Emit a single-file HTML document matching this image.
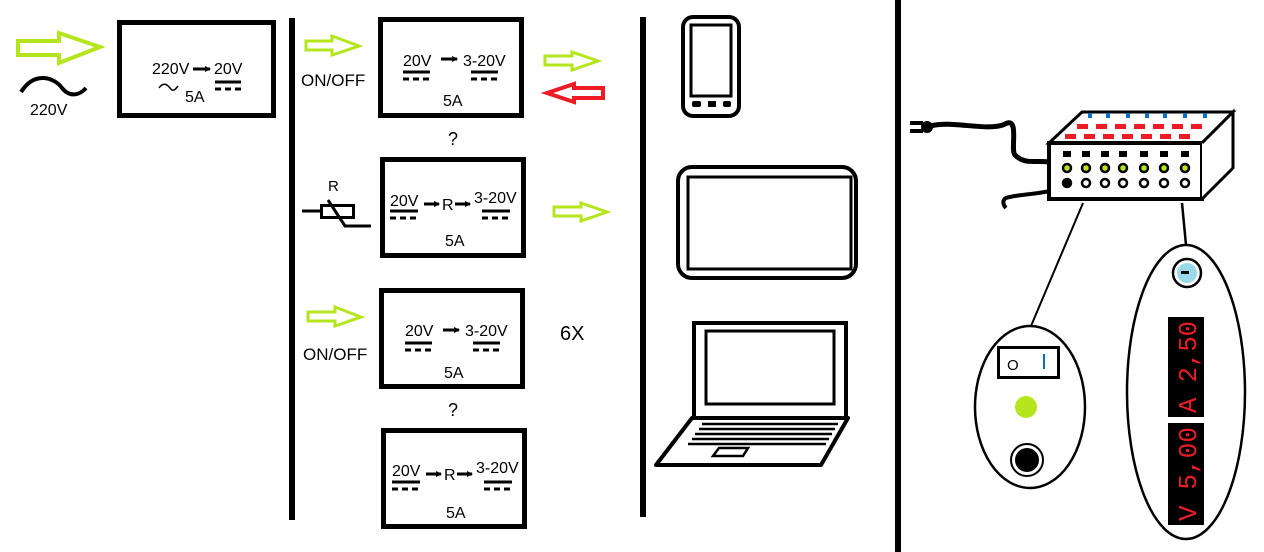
<!DOCTYPE html>
<html><head><meta charset="utf-8"><style>
html,body{margin:0;padding:0;background:#fff;width:1264px;height:552px;overflow:hidden}
text{font-family:"Liberation Sans",sans-serif;fill:#000}
</style></head><body>
<svg width="1264" height="552" viewBox="0 0 1264 552" xmlns="http://www.w3.org/2000/svg">
<defs>
<marker id="ah" markerWidth="6" markerHeight="6" refX="5" refY="3" orient="auto" markerUnits="userSpaceOnUse"><path d="M0,0 L6,3 L0,6z" fill="#000"/></marker>
</defs>
<g fill="none" stroke-linejoin="miter">
<path d="M18,41 H59 V33 L100,47 L59,63 V55 H18 Z" stroke="#b5e61d" stroke-width="4"/>
<path d="M21,92 C35,70 55,78 62,88 C70,98 80,95 86,88" stroke="#000" stroke-width="4"/>
</g>
<text x="30" y="115" font-size="16">220V</text>
<rect x="119.5" y="22.5" width="154" height="93" fill="none" stroke="#000" stroke-width="5"/>
<text x="152" y="74" font-size="16">220V</text>
<line x1="193" y1="69" x2="210" y2="69" stroke="#000" stroke-width="3" marker-end="url(#ah)"/>
<text x="214" y="74" font-size="16">20V</text>
<line x1="215" y1="82" x2="241" y2="82" stroke="#000" stroke-width="3"/>
<line x1="215" y1="89" x2="241" y2="89" stroke="#000" stroke-width="3" stroke-dasharray="6,4"/>
<path d="M159,88 C163,82 167,84 170,88 C173,92 175,90 178,86" fill="none" stroke="#000" stroke-width="1.5"/>
<text x="185" y="102" font-size="16">5A</text>
<rect x="289" y="18" width="6" height="502" fill="#000"/>
<rect x="640" y="17" width="6" height="500" fill="#000"/>
<rect x="895" y="0" width="6" height="552" fill="#000"/>
<g fill="none" stroke="#b5e61d" stroke-width="3">
<path d="M306,41 H332 V36 L359,46 L332,55 V50 H306 Z"/>
<path d="M545,56 H572 V52 L598,61 L572,70 V65 H545 Z"/>
<path d="M554,207 H581 V203 L607,212 L581,221 V216 H554 Z"/>
<path d="M308,312 H335 V307 L361,317 L335,326 V321 H308 Z"/>
</g>
<path d="M603,88 H574 V84 L547,93 L574,102 V98 H603 Z" fill="none" stroke="#ed1c24" stroke-width="4"/>
<text x="301" y="86" font-size="17">ON/OFF</text>
<text x="303" y="360" font-size="17">ON/OFF</text>
<rect x="380.5" y="19.5" width="141" height="96" fill="none" stroke="#000" stroke-width="5"/>
<text x="403" y="66" font-size="16">20V</text>
<line x1="441" y1="59" x2="457" y2="59" stroke="#000" stroke-width="3" marker-end="url(#ah)"/>
<text x="463" y="66" font-size="16">3-20V</text>
<line x1="403" y1="72" x2="430" y2="72" stroke="#000" stroke-width="3"/>
<line x1="403" y1="79" x2="430" y2="79" stroke="#000" stroke-width="3" stroke-dasharray="6,4"/>
<line x1="471" y1="72" x2="498" y2="72" stroke="#000" stroke-width="3"/>
<line x1="471" y1="79" x2="498" y2="79" stroke="#000" stroke-width="3" stroke-dasharray="6,4"/>
<text x="443" y="106" font-size="16">5A</text>
<text x="448" y="145" font-size="18">?</text>
<text x="328" y="191" font-size="15">R</text>
<line x1="302" y1="211" x2="321" y2="211" stroke="#000" stroke-width="3"/>
<rect x="321.5" y="205.5" width="32" height="12" fill="none" stroke="#000" stroke-width="3"/>
<polyline points="328,200 345,226 371,226" fill="none" stroke="#000" stroke-width="3"/>
<rect x="382.5" y="159.5" width="141" height="96" fill="none" stroke="#000" stroke-width="5"/>
<text x="390" y="206" font-size="16">20V</text>
<line x1="424" y1="204" x2="439" y2="204" stroke="#000" stroke-width="3" marker-end="url(#ah)"/>
<text x="442" y="210" font-size="16">R</text>
<line x1="455" y1="204" x2="470" y2="204" stroke="#000" stroke-width="3" marker-end="url(#ah)"/>
<text x="474" y="203" font-size="16">3-20V</text>
<line x1="390" y1="211" x2="418" y2="211" stroke="#000" stroke-width="3"/>
<line x1="390" y1="218" x2="418" y2="218" stroke="#000" stroke-width="3" stroke-dasharray="6,4"/>
<line x1="482" y1="211" x2="510" y2="211" stroke="#000" stroke-width="3"/>
<line x1="482" y1="218" x2="510" y2="218" stroke="#000" stroke-width="3" stroke-dasharray="6,4"/>
<text x="445" y="246" font-size="16">5A</text>
<rect x="381.5" y="290.5" width="141" height="96" fill="none" stroke="#000" stroke-width="5"/>
<text x="405" y="336" font-size="16">20V</text>
<line x1="443" y1="330" x2="459" y2="330" stroke="#000" stroke-width="3" marker-end="url(#ah)"/>
<text x="465" y="336" font-size="16">3-20V</text>
<line x1="405" y1="343" x2="432" y2="343" stroke="#000" stroke-width="3"/>
<line x1="405" y1="350" x2="432" y2="350" stroke="#000" stroke-width="3" stroke-dasharray="6,4"/>
<line x1="473" y1="343" x2="500" y2="343" stroke="#000" stroke-width="3"/>
<line x1="473" y1="350" x2="500" y2="350" stroke="#000" stroke-width="3" stroke-dasharray="6,4"/>
<text x="444" y="378" font-size="16">5A</text>
<text x="560" y="340" font-size="20">6X</text>
<text x="448" y="416" font-size="18">?</text>
<rect x="383.5" y="430.5" width="141" height="96" fill="none" stroke="#000" stroke-width="5"/>
<text x="392" y="476" font-size="16">20V</text>
<line x1="426" y1="474" x2="441" y2="474" stroke="#000" stroke-width="3" marker-end="url(#ah)"/>
<text x="444" y="480" font-size="16">R</text>
<line x1="457" y1="474" x2="472" y2="474" stroke="#000" stroke-width="3" marker-end="url(#ah)"/>
<text x="476" y="473" font-size="16">3-20V</text>
<line x1="392" y1="482" x2="420" y2="482" stroke="#000" stroke-width="3"/>
<line x1="392" y1="489" x2="420" y2="489" stroke="#000" stroke-width="3" stroke-dasharray="6,4"/>
<line x1="484" y1="482" x2="512" y2="482" stroke="#000" stroke-width="3"/>
<line x1="484" y1="489" x2="512" y2="489" stroke="#000" stroke-width="3" stroke-dasharray="6,4"/>
<text x="446" y="518" font-size="16">5A</text>
<g fill="none" stroke="#000" stroke-width="4">
<rect x="683" y="17" width="56" height="99" rx="10"/>
<rect x="691" y="25" width="40" height="71" stroke-width="3"/>
<rect x="678" y="167" width="178" height="111" rx="14"/>
<rect x="688" y="177" width="163" height="92" stroke-width="3"/>
<rect x="694" y="323" width="152" height="95"/>
<rect x="706" y="331" width="128" height="73" stroke-width="3"/>
<path d="M692,418 H848 L821,465 H656 Z" stroke-linejoin="round"/>
<path d="M702,424 H838 M699,429 H835 M695,434 H832 M692,439 H829 M688,444 H826" stroke-width="2.5"/>
<path d="M719,448 H748 L743,456 H713 Z" stroke-width="2.5"/>
</g>
<g fill="#000"><rect x="692" y="101" width="9" height="6" rx="2"/><rect x="708" y="101" width="8" height="6"/><rect x="723" y="101" width="8" height="6" rx="2"/></g>
<g fill="none" stroke="#000">
<path d="M931,126 C950,120 990,132 1005,124 C1020,116 1010,150 1015,155 C1025,165 1035,160 1049,162" stroke-width="5"/>
<path d="M1067,183 C1055,195 1020,193 1006,198 C1002,200 1003,205 1006,208" stroke-width="4"/>
<path d="M1049,143 L1082,112 H1233 L1202,143 Z" fill="#fff" stroke-width="3"/>
<rect x="1049" y="143" width="153" height="56" fill="#fff" stroke-width="4"/>
<path d="M1202,143 L1233,112 V168 L1202,199" fill="#fff" stroke-width="3"/>
<line x1="1083" y1="203" x2="1031" y2="326" stroke-width="2"/>
<line x1="1182" y1="203" x2="1186" y2="245" stroke-width="2.5"/>
<ellipse cx="1030" cy="407" rx="55" ry="81" stroke-width="2.5" fill="#fff"/>
<ellipse cx="1186" cy="392" rx="59" ry="147" stroke-width="2.5" fill="#fff"/>
<rect x="998.5" y="347.5" width="60" height="30" stroke-width="3"/>
<circle cx="1027" cy="460" r="16" stroke-width="2"/>
<circle cx="1187" cy="273" r="14" stroke-width="2.5"/>
</g>
<rect x="910" y="121" width="13" height="4" fill="#000"/><rect x="910" y="129" width="13" height="4" fill="#000"/>
<circle cx="927" cy="127" r="6" fill="#000"/>
<g fill="#000">
<rect x="1063" y="151" width="8" height="6"/><rect x="1082" y="151" width="8" height="6"/><rect x="1101" y="151" width="8" height="6"/><rect x="1119" y="151" width="8" height="6"/><rect x="1140" y="151" width="8" height="6"/><rect x="1160" y="151" width="8" height="6"/><rect x="1181" y="151" width="8" height="6"/>
</g>
<g fill="#b5e61d" stroke="#000" stroke-width="2.5">
<circle cx="1067" cy="168" r="4"/><circle cx="1086" cy="168" r="4"/><circle cx="1105" cy="168" r="4"/><circle cx="1123" cy="168" r="4"/><circle cx="1144" cy="168" r="4"/><circle cx="1164" cy="168" r="4"/><circle cx="1185" cy="168" r="4"/>
</g>
<g fill="#fff" stroke="#000" stroke-width="2.5">
<circle cx="1067" cy="183" r="4" fill="#000"/><circle cx="1086" cy="183" r="4"/><circle cx="1105" cy="183" r="4"/><circle cx="1123" cy="183" r="4"/><circle cx="1144" cy="183" r="4"/><circle cx="1164" cy="183" r="4"/><circle cx="1185" cy="183" r="4"/>
</g>
<g fill="#ed1c24">
<rect x="1077" y="124" width="11" height="5"/><rect x="1096" y="124" width="11" height="5"/><rect x="1115" y="124" width="11" height="5"/><rect x="1134" y="124" width="11" height="5"/><rect x="1153" y="124" width="11" height="5"/><rect x="1172" y="124" width="11" height="5"/><rect x="1191" y="124" width="11" height="5"/>
<rect x="1065" y="134" width="11" height="5"/><rect x="1084" y="134" width="11" height="5"/><rect x="1103" y="134" width="11" height="5"/><rect x="1122" y="134" width="11" height="5"/><rect x="1141" y="134" width="11" height="5"/><rect x="1160" y="134" width="11" height="5"/><rect x="1179" y="134" width="11" height="5"/>
</g>
<g fill="#0070c0">
<rect x="1088" y="113" width="4" height="5"/><rect x="1106" y="113" width="4" height="5"/><rect x="1126" y="113" width="4" height="5"/><rect x="1145" y="113" width="4" height="5"/><rect x="1163" y="113" width="4" height="5"/><rect x="1183" y="113" width="4" height="5"/><rect x="1203" y="113" width="4" height="5"/>
</g>
<text x="1007" y="370" font-size="15" fill="#000">O</text>
<rect x="1043" y="354" width="2" height="15" fill="#0070c0"/>
<circle cx="1026" cy="407" r="11" fill="#b5e61d"/>
<circle cx="1027" cy="460" r="12" fill="#000"/>
<circle cx="1187" cy="273" r="10" fill="#99d9ea"/>
<rect x="1181" y="271" width="8" height="3" fill="#000"/>
<rect x="1168" y="317" width="36" height="100" fill="#000"/>
<rect x="1168" y="423" width="36" height="102" fill="#000"/>
<text transform="translate(1196,413) rotate(-90)" font-size="26" textLength="92" lengthAdjust="spacingAndGlyphs" style="fill:#ed1c24;font-family:'Liberation Mono',monospace">A 2,50</text>
<text transform="translate(1196,521) rotate(-90)" font-size="26" textLength="94" lengthAdjust="spacingAndGlyphs" style="fill:#ed1c24;font-family:'Liberation Mono',monospace">V 5,00</text>
</svg>
</body></html>
